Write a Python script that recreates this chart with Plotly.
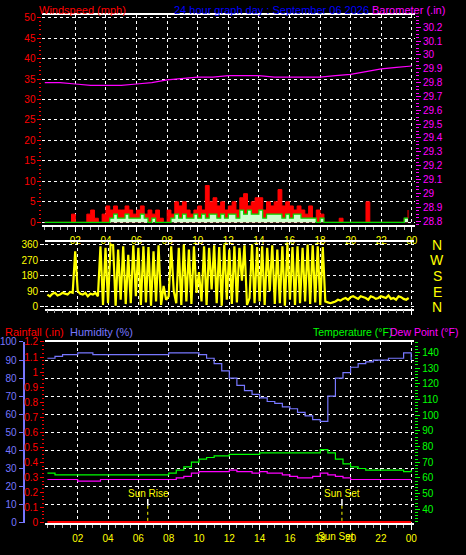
import plotly.graph_objects as go

hours_q = [i * 0.25 for i in range(96)]
wind_gust = [0,0,0,0, 0,0,0,2, 0,0,0,2, 3,1,0,2, 4,3,4,3, 3,4,3,2, 3,4,2,3, 2,3,1,0,
             3,2,5,4, 5,3,2,3, 4,3,9,5, 6,4,5,3, 4,5,3,6, 7,4,5,6, 6,3,5,4, 5,8,4,5,
             4,3,4,3, 2,4,1,3, 2,0,0,0, 0,1,0,0, 0,0,0,0, 5,0,0,0, 0,0,0,0, 0,0,1,3]
wind_speed = [0,0,0,0, 0,0,0,0, 0,0,0,0, 0,0,0,0, 0,1,2,1, 1,2,1,1, 1,2,1,0, 1,0,0,0,
              0,1,2,1, 2,1,1,2, 1,2,1,2, 2,1,2,1, 2,2,1,3, 2,3,2,2, 3,1,2,2, 2,2,1,2,
              1,2,2,1, 1,1,1,0, 1,0,0,0, 0,0,0,0, 0,0,0,0, 0,0,0,0, 0,0,0,0, 0,0,1,1]

hours_h = list(range(25))
barometer = [29.80,29.80,29.79,29.78,29.78,29.78,29.79,29.80,29.82,29.83,29.84,29.84,29.85,
             29.85,29.85,29.84,29.84,29.84,29.84,29.85,29.86,29.88,29.90,29.91,29.92]

hours_d = [i / 6 for i in range(144)]
wind_dir = [70,60,75,80,65,70,80,75,70,85,80,320,90,75,70,80,60,75,70,80,60,
            350,10,340,20,360,355,5,330,40,350,15,300,20,355,60,340,10,350,25,345,
            5,320,30,355,10,120,40,60,350,90,20,340,10,360,30,330,15,350,80,200,
            30,350,10,340,100,355,20,345,5,360,40,330,15,350,25,340,150,355,10,
            50,360,20,345,30,350,10,340,90,355,15,330,20,350,5,360,40,345,10,350,
            20,340,30,360,15,355,25,350,10,345,
            30,25,20,25,30,40,35,45,50,40,55,60,50,45,60,55,50,40,60,55,45,50,60,
            55,50,65,45,50,40,60,55,45,40,50]

hours_s = [i * 0.5 for i in range(49)]
humidity = [91,92,93,93,94,94,93,93,93,93,93,93,93,93,93,93,94,94,94,94,93,91,88,84,80,76,
            73,71,69,67,66,64,63,61,59,57,56,70,80,83,86,88,89,90,90,91,91,94,90]
temperature = [63,62,62,62,62,62,62,62,62,62,62,62,62,62,62,62,63,65,67,70,72,73,74,74,75,75,
               75,75,76,76,76,76,76,76,76,76,78,76,72,69,67,66,65,65,65,65,65,64,65]
dew_point = [59,59,59,59,58,58,58,59,59,59,59,59,59,59,59,59,59,60,61,63,64,64,64,64,65,64,
             64,63,64,63,63,62,61,60,60,61,63,62,61,60,59,59,59,59,59,59,59,59,59]
rainfall = [0.0] * 49

hour_ticks = list(range(2, 25, 2))
hour_labels = ["02","04","06","08","10","12","14","16","18","20","22","00"]
baro_ticks = [round(28.8 + 0.1 * i, 1) for i in range(15)]
rain_ticks = [round(0.1 * i, 1) for i in range(13)]

F = "Liberation Sans"
fig = go.Figure()
fig.add_trace(go.Scatter(x=hours_q, y=wind_gust, mode="lines", line=dict(color="red", width=1, shape="hv"),
                         fill="tozeroy", fillcolor="red", xaxis="x", yaxis="y"))
fig.add_trace(go.Scatter(x=hours_q, y=wind_speed, mode="lines", line=dict(color="#00dd00", width=1.2, shape="hv"),
                         fill="tozeroy", fillcolor="#ccffcc", xaxis="x", yaxis="y"))
fig.add_trace(go.Scatter(x=hours_h, y=barometer, mode="lines", line=dict(color="magenta", width=1.2),
                         xaxis="x", yaxis="y2"))
fig.add_trace(go.Scatter(x=hours_d, y=wind_dir, mode="lines", line=dict(color="yellow", width=2.2),
                         xaxis="x2", yaxis="y3"))
fig.add_trace(go.Scatter(x=hours_s, y=rainfall, mode="lines", line=dict(color="red", width=3),
                         xaxis="x3", yaxis="y4"))
fig.add_trace(go.Scatter(x=hours_s, y=humidity, mode="lines", line=dict(color="#7777ff", width=1.2, shape="hv"),
                         xaxis="x3", yaxis="y5"))
fig.add_trace(go.Scatter(x=hours_s, y=temperature, mode="lines", line=dict(color="#00ff00", width=1.2, shape="hv"),
                         xaxis="x3", yaxis="y6"))
fig.add_trace(go.Scatter(x=hours_s, y=dew_point, mode="lines", line=dict(color="magenta", width=1.2, shape="hv"),
                         xaxis="x3", yaxis="y6"))

def xax(dom, show, anchor):
    return dict(domain=dom, range=[-0.15, 24.2], anchor=anchor, tickvals=hour_ticks, ticktext=hour_labels,
                showticklabels=show, tickfont=dict(color="yellow", size=10, family=F), ticks="outside",
                ticklen=5, tickcolor="white", showline=True, linecolor="white", mirror=True, linewidth=1.5,
                showgrid=True, gridcolor="white", griddash="dot", gridwidth=1, zeroline=False,
                minor=dict(dtick=0.5, tick0=0, ticks="outside", ticklen=3, tickcolor="#aaaaaa", showgrid=False))

grid = dict(showgrid=True, gridcolor="white", griddash="dot", gridwidth=1, zeroline=False)
fig.update_layout(
    width=466, height=555, margin=dict(l=0, r=0, t=0, b=0), showlegend=False,
    paper_bgcolor="black", plot_bgcolor="black", font=dict(family=F, size=10),
    xaxis=xax([0.0858, 0.8955], True, "y"),
    xaxis2=xax([0.0916, 0.894], False, "y3"),
    xaxis3=xax([0.0916, 0.894], True, "y4"),
    yaxis=dict(domain=[0.596, 0.982], range=[-0.7, 50.7], dtick=5, tickfont=dict(color="red", size=10, family=F),
               ticks="outside", ticklen=4, tickcolor="red", anchor="x",
               minor=dict(dtick=1, ticks="outside", ticklen=2, tickcolor="red"), **grid),
    yaxis2=dict(overlaying="y", side="right", anchor="x", range=[28.77, 30.29], tickvals=baro_ticks,
                ticktext=[f"{v:g}" for v in baro_ticks], tickfont=dict(color="magenta", size=10, family=F),
                ticks="outside", ticklen=5, tickcolor="magenta", showgrid=False, zeroline=False,
                minor=dict(dtick=0.025, ticks="outside", ticklen=3, tickcolor="magenta")),
    yaxis3=dict(domain=[0.443, 0.566], range=[-11, 377], tickvals=[0, 90, 180, 270, 360], anchor="x2",
                tickfont=dict(color="yellow", size=10, family=F), ticks="outside", ticklen=4, tickcolor="white", **grid),
    yaxis4=dict(domain=[0.049, 0.382], range=[-0.006, 1.201], tickvals=rain_ticks,
                ticktext=[f"{v:g}" for v in rain_ticks], anchor="x3",
                tickfont=dict(color="red", size=10, family=F), ticks="outside", ticklen=4, tickcolor="red",
                showgrid=False, zeroline=False,
                minor=dict(dtick=0.025, ticks="outside", ticklen=2, tickcolor="red")),
    yaxis5=dict(overlaying="y4", anchor="free", position=0.045, side="left", range=[-0.5, 100.1], dtick=10,
                tickfont=dict(color="#7777ff", size=10, family=F), ticks="outside", ticklen=4, tickcolor="#7777ff",
                showline=True, linecolor="#7777ff", linewidth=2, **grid),
    yaxis6=dict(overlaying="y4", side="right", anchor="x3", range=[31.1, 146.7], dtick=10,
                tickvals=[40, 50, 60, 70, 80, 90, 100, 110, 120, 130, 140],
                tickfont=dict(color="#00ff00", size=10, family=F), ticks="outside", ticklen=5, tickcolor="#00ff00",
                showgrid=False, zeroline=False,
                minor=dict(dtick=2, ticks="outside", ticklen=3, tickcolor="#00ff00")),
)

def ann(text, x, y, color, size=11, anchor="left"):
    fig.add_annotation(text=text, x=x / 466, y=1 - y / 555, xref="paper", yref="paper", showarrow=False,
                       xanchor=anchor, yanchor="middle", font=dict(color=color, size=size, family=F))

ann("Windspeed (mph)", 34, 5, "red")
ann("24 hour graph day : September 06 2026", 171, 5, "blue")
ann("Barometer (.in)", 372, 5, "magenta")
ann("Rainfall (.in)", 0, 333, "red")
ann("Humidity (%)", 66, 333, "#7777ff")
ann("Temperature (°F)", 312, 333, "#00ff00", 10.5)
ann("Dew Point (°F)", 390, 333, "magenta", 10.5)
for letter, yy in zip(["N", "W", "S", "E", "N"], [244, 260, 276, 292, 308]):
    ann(letter, 440, yy, "yellow", 14, "center")
ann("Sun Rise", 147, 497, "yellow", 10, "center")
ann("Sun Set", 343, 497, "yellow", 10, "center")
ann("Sun Set", 337, 541, "yellow", 10, "center")

for hx in [6.62, 19.43]:
    fig.add_shape(type="line", xref="x3", yref="paper", x0=hx, x1=hx, y0=1 - 503 / 555, y1=1 - 510 / 555,
                  line=dict(color="white", width=1.5))
    fig.add_shape(type="line", xref="x3", yref="paper", x0=hx, x1=hx, y0=1 - 510 / 555, y1=1 - 527 / 555,
                  line=dict(color="yellow", width=1, dash="dot"))

fig.write_html("out.html", config={"displayModeBar": False},
               post_script="document.body.style.margin='0';document.body.style.background='black';")
